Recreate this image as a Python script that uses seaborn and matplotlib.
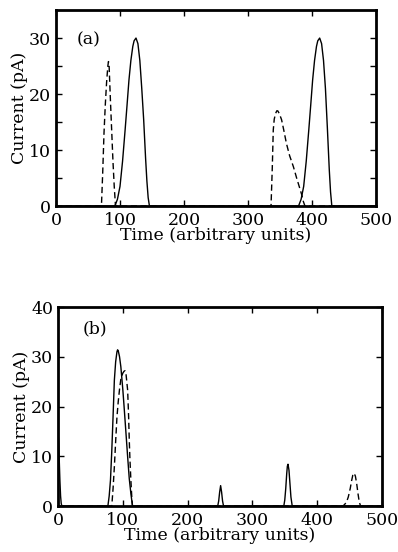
import numpy as np
import pandas as pd
import matplotlib
matplotlib.use("Agg")
import matplotlib.pyplot as plt
import seaborn as sns

# Panel (a)
a_solid_x = [0, 92, 96, 100, 104, 108, 111, 114, 117, 120, 122, 125, 128, 131, 134, 137, 140, 142, 144, 146,
             300, 379, 383, 387, 391, 395, 398, 401, 404, 407, 409, 412, 415, 418, 421, 424, 427, 429, 431, 500]
a_solid_y = [0, 0, 1.2, 3.5, 8, 13.6, 18, 22.5, 26, 28.5, 29.5, 30, 29, 26, 21, 15.4, 8.5, 4.5, 1.5, 0,
             0, 0, 1.2, 3.5, 8, 13.6, 18, 22.5, 26, 28.5, 29.5, 30, 29, 26, 21, 14, 6.5, 2.5, 0, 0]
a_dash_x = [0, 71, 73, 75, 77, 79, 81, 82, 83, 85, 87, 89, 91, 93,
            300, 336, 338, 339.5, 341, 343, 345, 346.5, 349, 352.5, 356, 360, 365, 371, 376, 380, 384, 386.5, 389, 500]
a_dash_y = [0, 0, 6, 13, 18, 22, 25, 25.8, 25, 19, 13.5, 8, 3.5, 0,
            0, 0, 7, 13.6, 15.5, 16.5, 17, 17, 16.5, 15.4, 13.5, 11.2, 9, 7, 5, 3.5, 2, 0.8, 0, 0]

# Panel (b)
b_solid_x = [0, 1, 2, 3, 4, 5, 6,
             77, 79, 81, 83, 85, 87, 89, 91, 92, 93, 95, 97, 100, 102, 105, 107.5, 110, 112.5, 115,
             246.5, 248, 249.5, 251, 252.5, 254, 255.5,
             348.5, 350, 351.5, 353, 354, 355, 356.5, 358, 359.5, 361.5, 500]
b_solid_y = [15, 13, 9, 5, 2, 0.5, 0,
             0, 2, 5.2, 11, 18, 25.3, 29, 31, 31.4, 31.2, 30, 28, 23.5, 20, 14.5, 9.9, 5.5, 2.5, 0,
             0, 1, 2.8, 4.1, 2.8, 1, 0,
             0, 1.2, 3.5, 6.5, 8, 8.4, 7.2, 4.5, 1.8, 0, 0]
b_dash_x = [0, 83, 85, 87, 89, 91, 93, 95, 97, 100, 102, 103.5, 105, 107.5, 109, 110, 111, 112.5, 114, 115,
            440, 445, 448, 451, 453, 455, 457, 459, 461, 463, 465, 467, 500]
b_dash_y = [0, 0, 3.5, 7.9, 13, 17.9, 21, 23.5, 25.5, 26.7, 27.1, 27.2, 26.5, 23.3, 18, 13.3, 9.5, 5.2, 1.5, 0,
            0, 0.7, 1.8, 3.5, 5, 6.2, 6.6, 6, 4.5, 2.5, 0.8, 0, 0]

sns.set_style("ticks")
plt.rcParams["font.family"] = ["DejaVu Serif"]
plt.rcParams["font.size"] = 12.5
plt.rcParams["axes.edgecolor"] = "black"
plt.rcParams["xtick.color"] = "black"
plt.rcParams["ytick.color"] = "black"
plt.rcParams["text.color"] = "black"
plt.rcParams["axes.labelcolor"] = "black"

fig = plt.figure(figsize=(3.98, 5.52), dpi=100)
ax_a = fig.add_axes([0.1407, 0.6268, 0.804, 0.355])
ax_b = fig.add_axes([0.1457, 0.0833, 0.814, 0.3605])


def draw(ax, sx, sy, dx, dy, ymax, yminor, tag, tag_pos):
    sns.lineplot(x=sx, y=sy, ax=ax, color="black", lw=1.0, sort=False, estimator=None)
    sns.lineplot(x=dx, y=dy, ax=ax, color="black", lw=1.0, sort=False, estimator=None,
                 linestyle=(0, (4.5, 2.5)))
    ax.set_xlim(0, 500)
    ax.set_ylim(0, ymax)
    ax.set_xticks(range(0, 501, 100))
    ax.set_yticks(range(0, ymax + 1, 10))
    if yminor:
        ax.set_yticks(range(5, ymax, 10), minor=True)
    ax.tick_params(which="both", direction="in", top=True, right=True, length=4, width=1,
                   labelsize=12.5)
    ax.tick_params(axis="x", pad=4)
    ax.tick_params(axis="y", pad=3.5)
    for s in ax.spines.values():
        s.set_linewidth(2)
    ax.set_xlabel("Time (arbitrary units)", fontsize=12.5, labelpad=-1)
    ax.set_ylabel("Current (pA)", fontsize=12.5, labelpad=1)
    ax.text(tag_pos[0], tag_pos[1], tag, transform=ax.transAxes, fontsize=12.5, va="center")


draw(ax_a, a_solid_x, a_solid_y, a_dash_x, a_dash_y, 35, True, "(a)", (0.066, 0.847))
draw(ax_b, b_solid_x, b_solid_y, b_dash_x, b_dash_y, 40, False, "(b)", (0.077, 0.89))

fig.savefig("out.png", dpi=100)
